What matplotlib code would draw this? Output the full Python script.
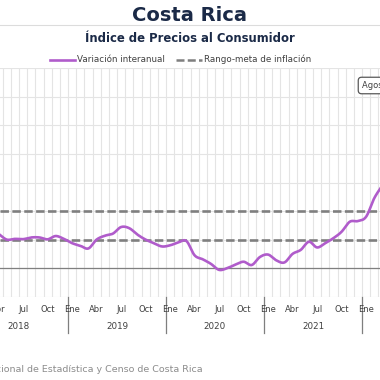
import numpy as np
import matplotlib
matplotlib.use("Agg")
import matplotlib.pyplot as plt
from matplotlib.lines import Line2D

# Variación interanual del IPC, mensual desde abril 2018 (%)
meses_idx = list(range(3, 51))  # 0 = enero 2018
variacion = [2.40, 2.00, 2.05, 2.03, 2.15, 2.15, 2.02, 2.25, 2.05,   # abr-dic 2018
             1.75, 1.57, 1.38, 2.00, 2.27, 2.42, 2.88, 2.80, 2.35, 2.00, 1.75, 1.52,  # 2019
             1.60, 1.80, 1.90, 0.90, 0.62, 0.30, -0.12, 0.00, 0.25, 0.45, 0.22, 0.78,  # 2020
             0.95, 0.55, 0.40, 1.00, 1.28, 1.85, 1.45, 1.75, 2.10, 2.55, 3.25, 3.30,  # 2021
             3.60, 4.90, 5.80]  # 2022
meta_inf = 2
meta_sup = 4
nombres_mes = ["Ene", "Abr", "Jul", "Oct"]
anios = [2018, 2019, 2020, 2021]

PURPLE = "#b05ccb"
GRAY = "#7f7f7f"
NAVY = "#1b2a47"
W = 380.0


def catmull(x, y, n=16):
    # curva suavizada tipo Excel
    x = np.asarray(x, float); y = np.asarray(y, float)
    px = np.r_[2 * x[0] - x[1], x, 2 * x[-1] - x[-2]]
    py = np.r_[2 * y[0] - y[1], y, 2 * y[-1] - y[-2]]
    xs, ys = [], []
    s = np.linspace(0, 1, n, endpoint=False)
    for i in range(1, len(px) - 2):
        for P, out in ((px, xs), (py, ys)):
            p0, p1, p2, p3 = P[i - 1], P[i], P[i + 1], P[i + 2]
            out.extend(0.5 * ((2 * p1) + (-p0 + p2) * s + (2 * p0 - 5 * p1 + 4 * p2 - p3) * s ** 2
                              + (-p0 + 3 * p1 - 3 * p2 + p3) * s ** 3))
    xs.append(x[-1]); ys.append(y[-1])
    return np.array(xs), np.array(ys)


fig = plt.figure(figsize=(3.8, 3.8), dpi=100)
top_px, bot_px = 68.3, 296.7
ax = fig.add_axes([0, 1 - bot_px / W, 1, (bot_px - top_px) / W])
ax.set_xlim(3.673, 50.204)
ax.set_ylim(-2, 14)
ax.set_xticks(np.arange(4, 51))
ax.set_yticks(np.arange(-2, 15, 2))
ax.grid(True, color="#e4e4e4", lw=0.8)
ax.set_axisbelow(True)
ax.tick_params(length=0, labelbottom=False, labelleft=False)
for sp in ax.spines.values():
    sp.set_visible(False)

ax.axhline(0, color=GRAY, lw=0.9)
for v in (meta_inf, meta_sup):
    ax.axhline(v, color=GRAY, lw=1.9, dashes=(3.2, 1.3))

xm = np.array(meses_idx) + 0.5
sx, sy = catmull(xm, variacion)
ax.plot(sx, sy, color=PURPLE, lw=1.9, solid_capstyle="round")

# eje de fechas
tr = ax.get_xaxis_transform()
for m in range(0, 51, 3):
    ax.text(m + 0.5, -0.055, nombres_mes[(m % 12) // 3], transform=tr, ha="center", va="center",
            fontsize=6, color="#404040", clip_on=False)
for i, a in enumerate(anios):
    ax.text(12 * i + 6, -0.131, str(a), transform=tr, ha="center", va="center",
            fontsize=6.3, color="#404040", clip_on=False)
for b in (12, 24, 36, 48):
    ax.plot([b, b], [0, -0.159], transform=tr, color=GRAY, lw=0.9, clip_on=False)

# titulos
fig.text(0.5, 1 - 15.5 / W, "Costa Rica", ha="center", va="center", fontsize=14,
         weight="bold", color=NAVY)
fig.add_artist(Line2D([0, 1], [1 - 24.5 / W] * 2, color="#dcdcdc", lw=0.8))
fig.text(0.5, 1 - 38 / W, "Índice de Precios al Consumidor", ha="center", va="center",
         fontsize=8.4, weight="bold", color=NAVY)

# leyenda
ly = 1 - 59.5 / W
fig.add_artist(Line2D([50 / W, 75 / W], [ly, ly], color=PURPLE, lw=1.9))
fig.text(77 / W, ly, "Variación interanual", va="center", fontsize=6.3, color="#404040")
fig.add_artist(Line2D([176 / W, 202 / W], [ly, ly], color=GRAY, lw=1.8, dashes=(3.2, 1.3)))
fig.text(204 / W, ly, "Rango-meta de inflación", va="center", fontsize=6.3, color="#404040")

fig.text(362 / W, 1 - 85.5 / W, "Agosto 2022: 12,13%", va="center", fontsize=6, color="#404040",
         bbox=dict(boxstyle="round,pad=0.45,rounding_size=0.4", fc="white", ec="#595959", lw=0.9))

fig.text(203 / W, 1 - 370 / W, "Fuente: Instituto Nacional de Estadística y Censo de Costa Rica",
         ha="right", va="center", fontsize=6.8, color="#8c8c8c")

fig.savefig("out.png", dpi=100)
